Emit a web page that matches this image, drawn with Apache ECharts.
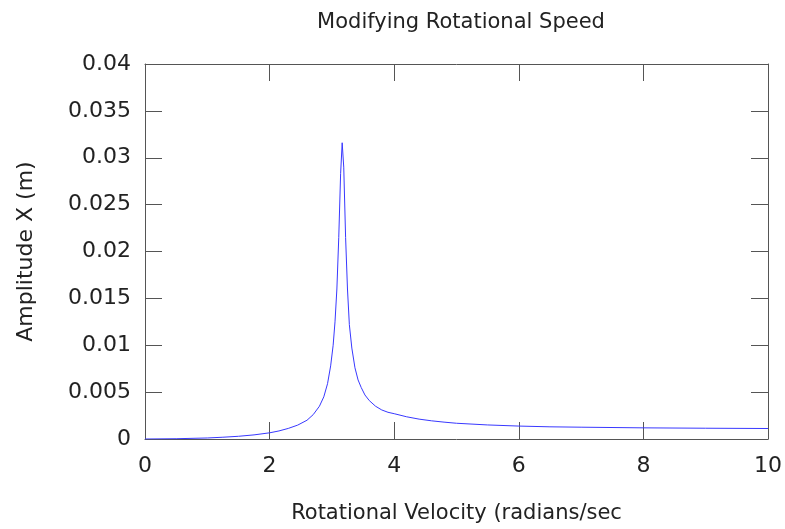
<!DOCTYPE html>
<html>
<head>
<meta charset="utf-8">
<script src="https://cdn.jsdelivr.net/npm/echarts@6/dist/echarts.min.js"></script>
<style>html,body{margin:0;padding:0;background:#fff}#c{width:785px;height:529px}</style>
</head>
<body>
<div id="c"></div>
<script>
var velocity = [0, 0.5, 1, 1.25, 1.5, 1.75, 2, 2.15, 2.3, 2.45, 2.6, 2.7, 2.8, 2.87, 2.93, 2.98, 3.02, 3.05, 3.08, 3.11, 3.14, 3.165, 3.19, 3.22, 3.25, 3.28, 3.32, 3.37, 3.42, 3.47, 3.53, 3.6, 3.7, 3.8, 3.9, 4.0, 4.2, 4.4, 4.6, 4.8, 5, 5.5, 6, 6.5, 7, 8, 9, 10];
var amplitude = [0, 0.00003, 0.00011, 0.00019, 0.00029, 0.00044, 0.00066, 0.00086, 0.00113, 0.00148, 0.0020, 0.0026, 0.0035, 0.0045, 0.0059, 0.0078, 0.0100, 0.0125, 0.0160, 0.0215, 0.0283, 0.0316, 0.0290, 0.0215, 0.0160, 0.0122, 0.0097, 0.0076, 0.0063, 0.0055, 0.0047, 0.0041, 0.0035, 0.0031, 0.00285, 0.0027, 0.00237, 0.00212, 0.00194, 0.0018, 0.00168, 0.0015, 0.00138, 0.0013, 0.00126, 0.00119, 0.00115, 0.00112];
var titleText = 'Modifying Rotational Speed';
var xName = 'Rotational Velocity (radians/sec';
var yName = 'Amplitude X (m)';

var data = velocity.map(function (v, i) { return [v, amplitude[i]]; });
var font = 'DejaVu Sans';
var axisCol = '#555';
var txtCol = '#222';
var chart = echarts.init(document.getElementById('c'), null, {renderer: 'canvas'});
chart.setOption({
  animation: false,
  backgroundColor: '#fff',
  title: {
    text: titleText, left: 456, top: 7, textAlign: 'center',
    textStyle: {fontFamily: font, fontSize: 21, fontWeight: 'normal', color: txtCol}
  },
  grid: {left: 145, right: 17, top: 64, bottom: 89, containLabel: false},
  xAxis: [{
    type: 'value', min: 0, max: 10, interval: 2, position: 'bottom',
    name: xName, nameLocation: 'middle', nameGap: 64,
    nameTextStyle: {fontFamily: font, fontSize: 21, color: txtCol},
    axisLine: {show: true, onZero: false, lineStyle: {color: axisCol, width: 1}},
    axisTick: {show: true, inside: true, length: 17, lineStyle: {color: axisCol}},
    axisLabel: {fontFamily: font, fontSize: 22, color: txtCol, margin: 16},
    splitLine: {show: false}
  }, {
    type: 'value', min: 0, max: 10, interval: 2, position: 'top',
    axisLine: {show: true, onZero: false, lineStyle: {color: axisCol, width: 1}},
    axisTick: {show: true, inside: true, length: 17, lineStyle: {color: axisCol}},
    axisLabel: {show: false}, splitLine: {show: false}
  }],
  yAxis: [{
    type: 'value', min: 0, max: 0.04, interval: 0.005, position: 'left',
    name: yName, nameLocation: 'middle', nameGap: 108, nameRotate: 90,
    nameTextStyle: {fontFamily: font, fontSize: 22, color: txtCol},
    axisLine: {show: true, onZero: false, lineStyle: {color: axisCol, width: 1}},
    axisTick: {show: true, inside: true, length: 17, lineStyle: {color: axisCol}},
    axisLabel: {fontFamily: font, fontSize: 22, color: txtCol, margin: 14},
    splitLine: {show: false}
  }, {
    type: 'value', min: 0, max: 0.04, interval: 0.005, position: 'right',
    axisLine: {show: true, onZero: false, lineStyle: {color: axisCol, width: 1}},
    axisTick: {show: true, inside: true, length: 17, lineStyle: {color: axisCol}},
    axisLabel: {show: false}, splitLine: {show: false}
  }],
  series: [{
    type: 'line', data: data, xAxisIndex: 0, yAxisIndex: 0,
    showSymbol: false, smooth: false,
    lineStyle: {color: '#3838ff', width: 1}
  }]
});
</script>
</body>
</html>
